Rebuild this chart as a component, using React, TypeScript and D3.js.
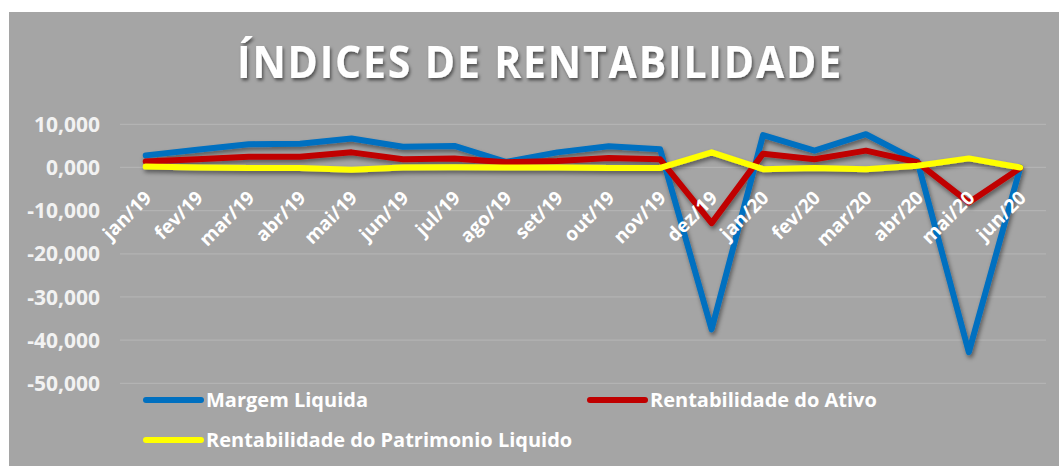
import React from "react";
import * as d3 from "d3";

const categories = [
  "jan/19", "fev/19", "mar/19", "abr/19", "mai/19", "jun/19", "jul/19", "ago/19", "set/19",
  "out/19", "nov/19", "dez/19", "jan/20", "fev/20", "mar/20", "abr/20", "mai/20", "jun/20",
];
const margemLiquida = [2.8, 4.1, 5.4, 5.5, 6.7, 4.8, 5.0, 1.3, 3.5, 4.9, 4.2, -37.5, 7.5, 3.9, 7.7, 1.5, -42.8, 0.0];
const rentAtivo = [1.4, 1.9, 2.5, 2.5, 3.5, 1.9, 2.1, 1.2, 1.5, 2.2, 1.9, -12.9, 3.2, 1.9, 3.9, 1.2, -8.1, -0.1];
const rentPL = [0.2, 0.0, -0.1, -0.1, -0.55, 0.0, 0.05, 0.0, 0.0, -0.1, -0.1, 3.5, -0.4, -0.1, -0.4, 0.4, 2.1, 0.0];
const yTicks = [10, 0, -10, -20, -30, -40, -50];
const seriesNames = ["Margem Liquida", "Rentabilidade do Ativo", "Rentabilidade do Patrimonio Liquido"];
const seriesColors = ["#0070c0", "#c00000", "#ffff00"];

const W = 1059;
const H = 466;
const FONT = "'Open Sans', 'DejaVu Sans', sans-serif";

const locale = d3.formatLocale({ decimal: ",", thousands: ".", grouping: [3], currency: ["R$", ""], minus: "-" });
const fmt = locale.format(".3f");

export default function App() {
  const x = d3.scaleBand<string>().domain(categories).range([120, 1046]);
  const cx = (c: string) => (x(c) as number) + x.bandwidth() / 2;
  const y = d3.scaleLinear().domain([-50, 10]).range([383.3, 124.3]);

  const line = d3
    .line<number>()
    .x((_, i) => cx(categories[i]))
    .y((d) => y(d));

  const allSeries = [margemLiquida, rentAtivo, rentPL];

  const legendItems = [
    { name: seriesNames[0], color: seriesColors[0], lx: 146, ly: 400 },
    { name: seriesNames[1], color: seriesColors[1], lx: 590, ly: 400 },
    { name: seriesNames[2], color: seriesColors[2], lx: 146, ly: 440 },
  ];

  return (
    <svg width={W} height={H} style={{ position: "absolute", left: 0, top: 0 }}>
      <defs>
        <filter id="sh" x="-10%" y="-10%" width="120%" height="130%">
          <feDropShadow dx="1.5" dy="3" stdDeviation="2" floodColor="#000" floodOpacity="0.45" />
        </filter>
        <filter id="tsh" x="-10%" y="-20%" width="120%" height="150%">
          <feDropShadow dx="1.5" dy="2.5" stdDeviation="1.5" floodColor="#000" floodOpacity="0.5" />
        </filter>
      </defs>
      <rect x={0} y={0} width={W} height={H} fill="#ffffff" />
      <rect x={9} y={12} width={W - 9} height={H - 12} fill="#a5a5a5" />
      <text
        x={540}
        y={78}
        textAnchor="middle"
        fontFamily={FONT}
        fontWeight={700}
        fontSize={45}
        fill="#ffffff"
        letterSpacing={2}
        textLength={606}
        lengthAdjust="spacingAndGlyphs"
        filter="url(#tsh)"
      >
        ÍNDICES DE RENTABILIDADE
      </text>
      {yTicks.map((t) => (
        <g key={t}>
          <line x1={120} x2={1046} y1={y(t)} y2={y(t)} stroke="#b3b3b3" strokeWidth={1.2} />
          <text
            x={100}
            y={y(t)}
            dy="0.36em"
            textAnchor="end"
            fontFamily={FONT}
            fontWeight={700}
            fontSize={21}
            fill="#f2f2f2"
          >
            {fmt(t)}
          </text>
        </g>
      ))}
      <g filter="url(#sh)">
        {allSeries.map((s, i) => (
          <path
            key={i}
            d={line(s) as string}
            fill="none"
            stroke={seriesColors[i]}
            strokeWidth={6}
            strokeLinejoin="round"
            strokeLinecap="round"
          />
        ))}
      </g>
      {categories.map((c) => (
        <text
          key={c}
          transform={`translate(${cx(c) + 7},${199}) rotate(-45)`}
          textAnchor="end"
          fontFamily={FONT}
          fontWeight={700}
          fontSize={19}
          fill="#ffffff"
        >
          {c}
        </text>
      ))}
      {legendItems.map((l) => (
        <g key={l.name}>
          <line x1={l.lx} x2={l.lx + 55} y1={l.ly} y2={l.ly} stroke={l.color} strokeWidth={6} strokeLinecap="round" />
          <text
            x={l.lx + 60}
            y={l.ly}
            dy="0.36em"
            fontFamily={FONT}
            fontWeight={700}
            fontSize={20}
            fill="#ffffff"
          >
            {l.name}
          </text>
        </g>
      ))}
    </svg>
  );
}
